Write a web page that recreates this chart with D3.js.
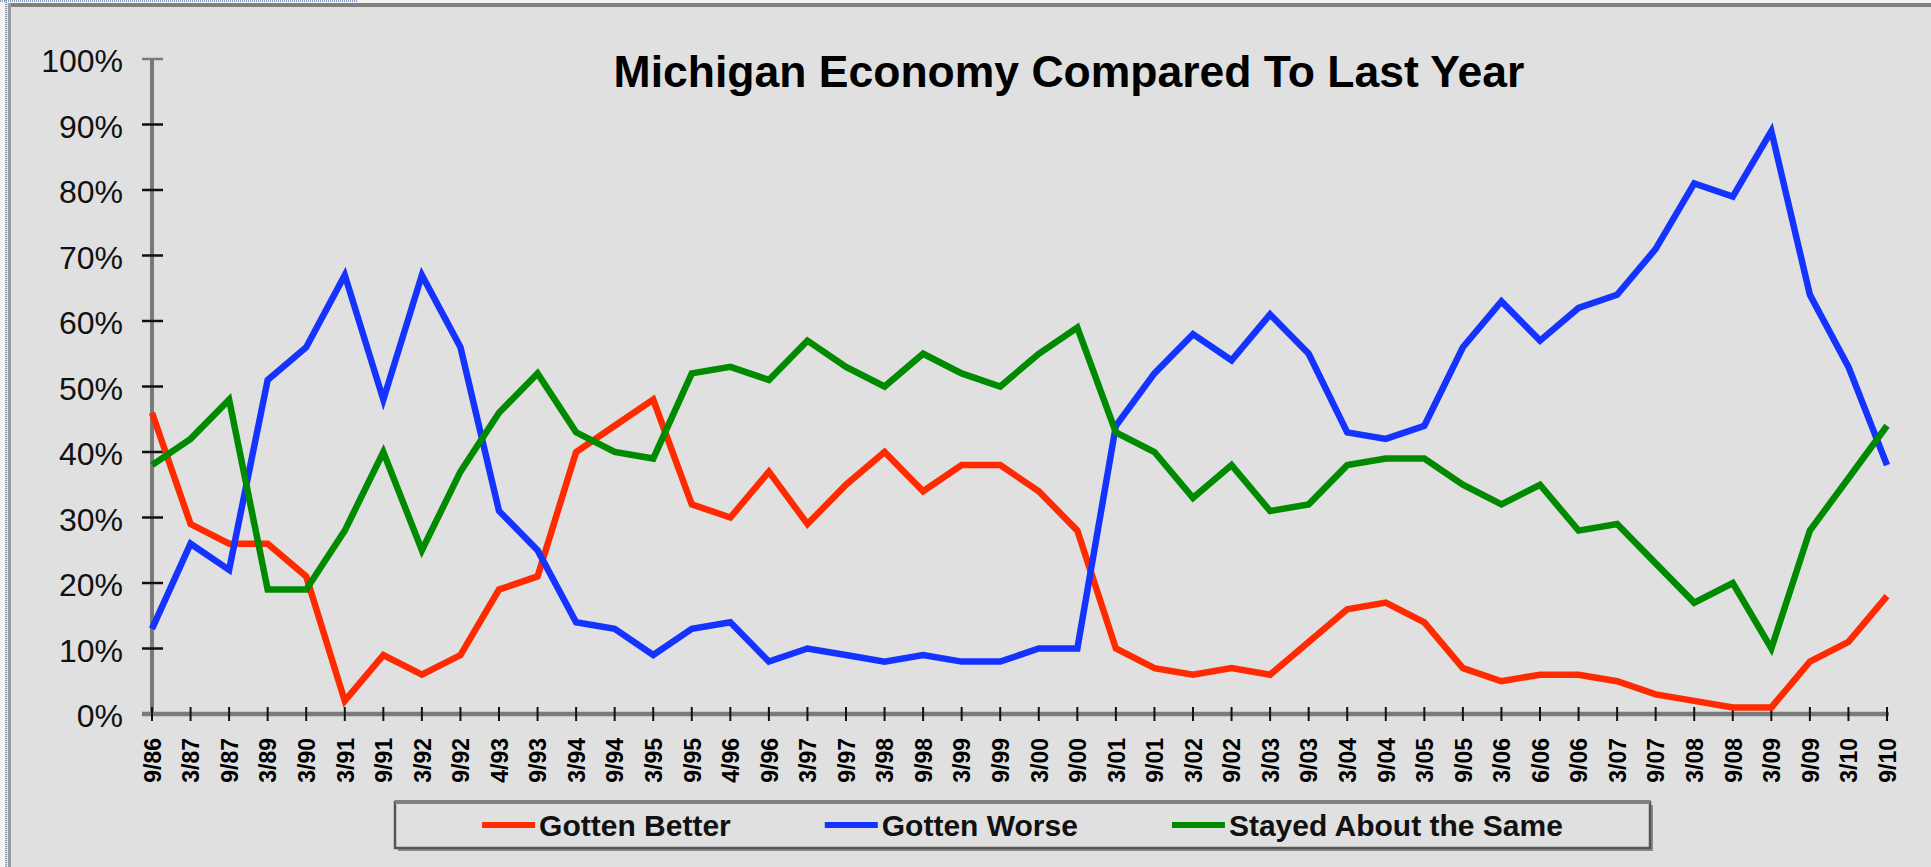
<!DOCTYPE html>
<html>
<head>
<meta charset="utf-8">
<script src="https://cdn.jsdelivr.net/npm/d3@7/dist/d3.min.js"></script>
<style>
  body { margin: 0; background: #e0e0e0; }
  svg { display: block; font-family: "Liberation Sans", Arial, sans-serif; }
</style>
</head>
<body>
<svg id="chart"></svg>
<script>
// survey dates along the x axis
const surveyDates = ["9/86","3/87","9/87","3/89","3/90","3/91","9/91","3/92","9/92","4/93",
  "9/93","3/94","9/94","3/95","9/95","4/96","9/96","3/97","9/97","3/98",
  "9/98","3/99","9/99","3/00","9/00","3/01","9/01","3/02","9/02","3/03",
  "9/03","3/04","9/04","3/05","9/05","3/06","6/06","9/06","3/07","9/07",
  "3/08","9/08","3/09","9/09","3/10","9/10"];

// percentages
const gottenBetter = [46,29,26,26,21,2,9,6,9,19,
  21,40,44,48,32,30,37,29,35,40,
  34,38,38,34,28,10,7,6,7,6,
  11,16,17,14,7,5,6,6,5,3,
  2,1,1,8,11,18];
const gottenWorse = [13,26,22,51,56,67,48,67,56,31,
  25,14,13,9,13,14,8,10,9,8,
  9,8,8,10,10,44,52,58,54,61,
  55,43,42,44,56,63,57,62,64,71,
  81,79,89,64,53,38];
const stayedSame = [38,42,48,19,19,28,40,25,37,46,
  52,43,40,39,52,53,51,57,53,50,
  55,52,50,55,59,43,40,33,38,31,
  32,38,39,39,35,32,35,28,29,23,
  17,20,10,28,36,44];

const seriesNames = ["Gotten Better", "Gotten Worse", "Stayed About the Same"];
const seriesColors = ["#ff2a00", "#1533ff", "#008a00"];
const yTicks = [0,10,20,30,40,50,60,70,80,90,100];

const width = 1931, height = 867;
const svg = d3.select("#chart").attr("width", width).attr("height", height);

// frame: light background, top grey rule, dotted selection edge
svg.append("rect").attr("width", width).attr("height", height).attr("fill", "#e0e0e0");
svg.append("rect").attr("x", 0).attr("y", 0).attr("width", width).attr("height", 3).attr("fill", "#f4f4f4");
svg.append("rect").attr("x", 0).attr("y", 0).attr("width", 5).attr("height", height).attr("fill", "#f4f4f4");
svg.append("line").attr("x1", 0).attr("x2", 357).attr("y1", 1).attr("y2", 1)
  .attr("stroke", "#8c9cc4").attr("stroke-width", 2).attr("stroke-dasharray", "1,1");
svg.append("line").attr("x1", 6).attr("x2", 6).attr("y1", 0).attr("y2", height)
  .attr("stroke", "#8c9cc4").attr("stroke-width", 2).attr("stroke-dasharray", "1,1");
svg.append("rect").attr("x", 8).attr("y", 3).attr("width", width - 8).attr("height", 4).attr("fill", "#808080");
svg.append("rect").attr("x", 8).attr("y", 3).attr("width", 3).attr("height", height).attr("fill", "#9a9a9a");

const x = d3.scalePoint().domain(surveyDates).range([152, 1887]);
const y = d3.scaleLinear().domain([0, 100]).range([714, 59]);

// title
svg.append("text")
  .attr("x", 1069).attr("y", 87)
  .attr("text-anchor", "middle")
  .attr("font-size", 44.5).attr("font-weight", "bold").attr("fill", "#000")
  .text("Michigan Economy Compared To Last Year");

// y axis
const yAxis = svg.append("g")
  .attr("transform", "translate(152,0)")
  .call(d3.axisLeft(y).tickValues(yTicks).tickFormat(d => d + "%").tickSize(0).tickPadding(29));
yAxis.select(".domain").remove();
yAxis.selectAll("text")
  .attr("font-size", 32).attr("fill", "#111")
  .attr("font-family", "\"Liberation Sans\", Arial, sans-serif")
  .attr("dy", "0.4em");
svg.append("line").attr("x1", 152).attr("x2", 152).attr("y1", y(100)).attr("y2", y(0))
  .attr("stroke", "#7a7a7a").attr("stroke-width", 4);
svg.selectAll(".ytick").data(yTicks).enter().append("line")
  .attr("class", "ytick")
  .attr("x1", 142).attr("x2", 163)
  .attr("y1", d => y(d)).attr("y2", d => y(d))
  .attr("stroke", d => d === 100 ? "#7a7a7a" : "#111").attr("stroke-width", 2.5);

// x axis
svg.append("line").attr("x1", 142).attr("x2", 1889).attr("y1", y(0)).attr("y2", y(0))
  .attr("stroke", "#7a7a7a").attr("stroke-width", 4.5);
const xAxis = svg.append("g")
  .attr("transform", `translate(0,${y(0)})`)
  .call(d3.axisBottom(x).tickSize(0).tickPadding(0));
xAxis.select(".domain").remove();
xAxis.selectAll("text")
  .attr("font-size", 23).attr("font-weight", "bold").attr("fill", "#000")
  .attr("font-family", "\"Liberation Sans\", Arial, sans-serif")
  .attr("text-anchor", "end")
  .attr("transform", "translate(0,24) rotate(-90)")
  .attr("x", 0).attr("y", 0).attr("dy", "0.36em");
svg.selectAll(".xtick").data(surveyDates).enter().append("line")
  .attr("class", "xtick")
  .attr("x1", d => x(d)).attr("x2", d => x(d))
  .attr("y1", y(0) - 7).attr("y2", y(0) + 7)
  .attr("stroke", "#111").attr("stroke-width", 2);

// lines
const allSeries = [gottenBetter, gottenWorse, stayedSame];
const line = d3.line()
  .x((d, i) => x(surveyDates[i]))
  .y(d => y(d));
svg.selectAll(".series").data(allSeries).enter().append("path")
  .attr("class", "series")
  .attr("d", line)
  .attr("fill", "none")
  .attr("stroke", (d, i) => seriesColors[i])
  .attr("stroke-width", 6.5)
  .attr("stroke-linejoin", "miter")
  .attr("stroke-miterlimit", 4);

// legend
const legBox = { x: 395, y: 802, w: 1255, h: 46 };
svg.append("rect")
  .attr("x", legBox.x + 3).attr("y", legBox.y + 3).attr("width", legBox.w).attr("height", legBox.h)
  .attr("fill", "#8a8a8a");
svg.append("rect")
  .attr("x", legBox.x).attr("y", legBox.y).attr("width", legBox.w).attr("height", legBox.h)
  .attr("fill", "#e0e0e0").attr("stroke", "#555").attr("stroke-width", 2.5);
svg.append("line")
  .attr("x1", legBox.x).attr("x2", legBox.x + legBox.w).attr("y1", legBox.y).attr("y2", legBox.y)
  .attr("stroke", "#808080").attr("stroke-width", 4);

const legend = svg.append("g");
const items = legend.selectAll("g").data(seriesNames).enter().append("g");
items.append("line")
  .attr("x1", 0).attr("x2", 53).attr("y1", 0).attr("y2", 0)
  .attr("stroke", (d, i) => seriesColors[i]).attr("stroke-width", 6);
items.append("text")
  .attr("x", 57).attr("y", 0).attr("dy", "0.36em")
  .attr("font-size", 30).attr("font-weight", "bold").attr("fill", "#111")
  .text(d => d);
let cursor = 0;
const offsets = [];
items.each(function () {
  offsets.push(cursor);
  const w = 57 + d3.select(this).select("text").node().getComputedTextLength();
  cursor += w + 94;
});
const total = cursor - 94;
const startX = legBox.x + (legBox.w - total) / 2;
items.attr("transform", (d, i) => `translate(${startX + offsets[i]},${legBox.y + legBox.h / 2})`);
</script>
</body>
</html>
